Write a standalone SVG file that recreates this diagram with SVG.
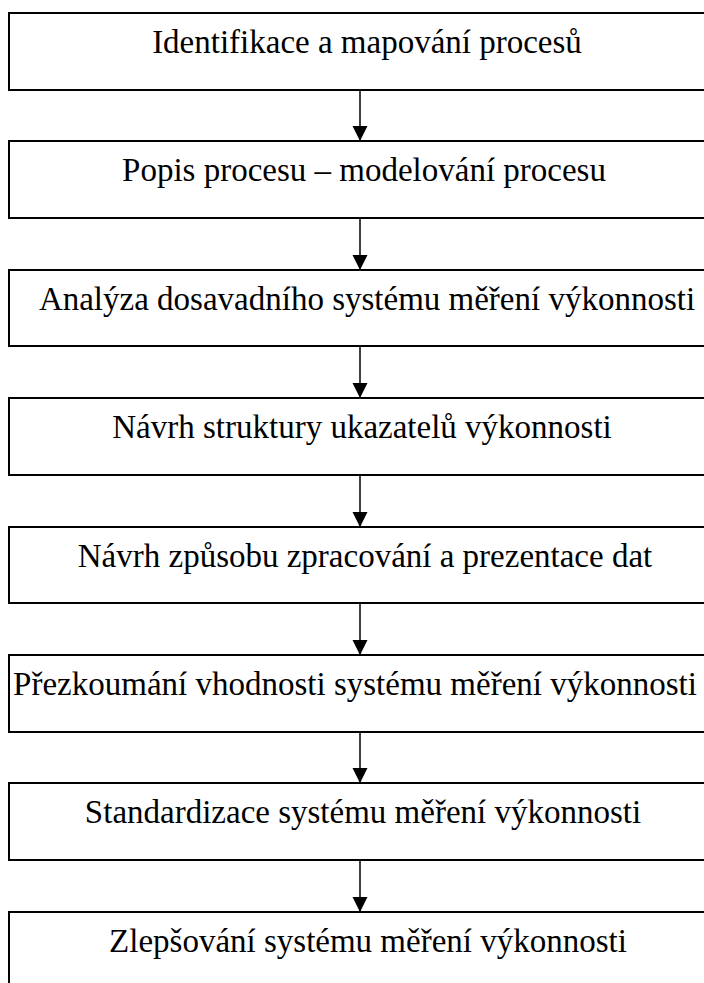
<svg xmlns="http://www.w3.org/2000/svg" width="704" height="983" viewBox="0 0 704 983">
  <style>
    .box { fill: #fff; stroke: #000; stroke-width: 2; }
    .label { font-family: "Liberation Serif", "Times New Roman", serif; font-size: 33px; fill: #000; text-anchor: middle; }
    .link { stroke: #000; stroke-width: 1.5; fill: none; }
  </style>
  <defs>
    <marker id="arrow" markerUnits="userSpaceOnUse" markerWidth="16" markerHeight="16" refX="15" refY="8" orient="auto">
      <path d="M0,0.5 L15,8 L0,15.5 Z" fill="#000"/>
    </marker>
  </defs>
  <rect width="704" height="983" fill="#fff"/>

  <g id="connectors">
    <line class="link" x1="360" y1="90" x2="360" y2="141" marker-end="url(#arrow)"/>
    <line class="link" x1="360" y1="218" x2="360" y2="270" marker-end="url(#arrow)"/>
    <line class="link" x1="360" y1="346" x2="360" y2="398" marker-end="url(#arrow)"/>
    <line class="link" x1="360" y1="475" x2="360" y2="527" marker-end="url(#arrow)"/>
    <line class="link" x1="360" y1="603" x2="360" y2="655" marker-end="url(#arrow)"/>
    <line class="link" x1="360" y1="732" x2="360" y2="783" marker-end="url(#arrow)"/>
    <line class="link" x1="360" y1="860" x2="360" y2="912" marker-end="url(#arrow)"/>
  </g>

  <g id="n1"><rect class="box" x="9" y="13" width="720" height="77"/><text class="label" x="367" y="53">Identifikace a mapování procesů</text></g>
  <g id="n2"><rect class="box" x="9" y="141" width="720" height="77"/><text class="label" x="364" y="181">Popis procesu – modelování procesu</text></g>
  <g id="n3"><rect class="box" x="9" y="270" width="720" height="76"/><text class="label" x="367" y="310">Analýza dosavadního systému měření výkonnosti</text></g>
  <g id="n4"><rect class="box" x="9" y="398" width="720" height="77"/><text class="label" x="362" y="438">Návrh struktury ukazatelů výkonnosti</text></g>
  <g id="n5"><rect class="box" x="9" y="527" width="720" height="76"/><text class="label" x="365" y="567">Návrh způsobu zpracování a prezentace dat</text></g>
  <g id="n6"><rect class="box" x="9" y="655" width="720" height="77"/><text class="label" x="355" y="695">Přezkoumání vhodnosti systému měření výkonnosti</text></g>
  <g id="n7"><rect class="box" x="9" y="783" width="720" height="77"/><text class="label" x="363" y="823">Standardizace systému měření výkonnosti</text></g>
  <g id="n8"><rect class="box" x="9" y="912" width="720" height="120"/><text class="label" x="368" y="952">Zlepšování systému měření výkonnosti</text></g>
</svg>
